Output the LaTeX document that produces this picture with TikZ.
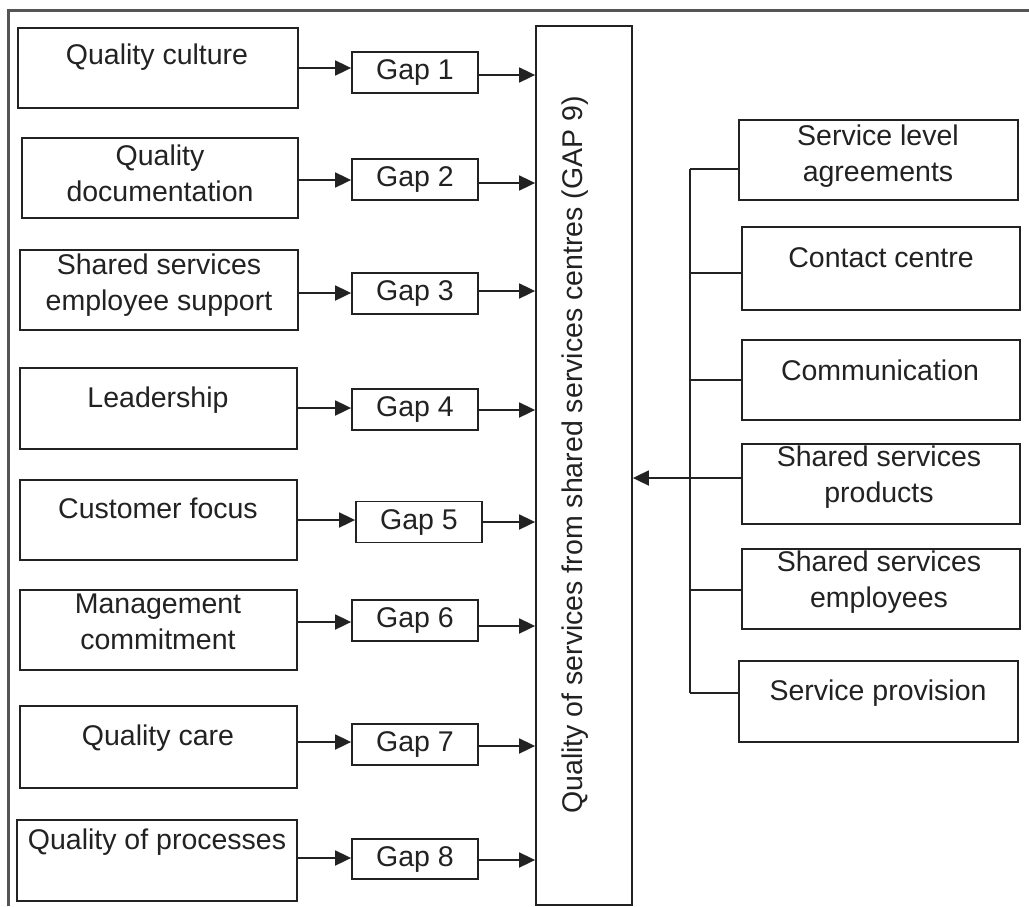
\documentclass[tikz,border=0pt]{standalone}
\usepackage{fontspec}
\setmainfont{Liberation Sans}
\usetikzlibrary{arrows.meta}
\definecolor{ink}{HTML}{222222}
\definecolor{frame}{HTML}{555555}
\begin{document}
\begin{tikzpicture}[x=1pt,y=-1pt,
  box/.style={draw=ink,line width=1.8pt,rectangle,inner sep=0pt,fill=white},
  txt/.style={font=\fontsize{28.5}{36}\selectfont,text=ink,align=center,inner sep=0pt},
  arr/.style={draw=ink,line width=1.8pt,-{Triangle[length=16pt,width=15pt]}},
  ln/.style={draw=ink,line width=1.8pt}]
\useasboundingbox (0,0) rectangle (1029,906);
\fill[white] (0,0) rectangle (1029,906);
% frame
\draw[frame,line width=3pt] (8,906) -- (8,10) -- (1029,10);
% central box
\node[box,minimum width=96pt,minimum height=879pt] (c) at (584,465.5) {};
\node[txt,rotate=90] (ct) at (575,455) {Quality of services from shared services centres (GAP 9)};
% left boxes
\node[box,minimum width=280pt,minimum height=80pt] (l1) at (158,68) {};
\node[box,minimum width=276pt,minimum height=80pt] (l2) at (160,178) {};
\node[box,minimum width=278pt,minimum height=80pt] (l3) at (159,290) {};
\node[box,minimum width=277pt,minimum height=81pt] (l4) at (158.5,408.5) {};
\node[box,minimum width=277pt,minimum height=80pt] (l5) at (158.5,520) {};
\node[box,minimum width=277pt,minimum height=80pt] (l6) at (158.5,630) {};
\node[box,minimum width=277pt,minimum height=82pt] (l7) at (158.5,747) {};
\node[box,minimum width=280pt,minimum height=81pt] (l8) at (157,860.5) {};
\node[txt] (t1) at (157,57) {Quality culture};
\node[txt] (t2) at (160,173) {Quality\\documentation};
\node[txt] (t3) at (159,285) {Shared services\\employee support};
\node[txt] (t4) at (158,400) {Leadership};
\node[txt] (t5) at (158,508) {Customer focus};
\node[txt] (t6) at (158,622) {Management\\commitment};
\node[txt] (t7) at (158,738) {Quality care};
\node[txt] (t8) at (157,842) {Quality of processes};
% gap boxes
\node[box,minimum width=126pt,minimum height=41pt] (g1) at (415,72.5) {};
\node[box,minimum width=126pt,minimum height=41pt] (g2) at (415,179.5) {};
\node[box,minimum width=126pt,minimum height=41pt] (g3) at (415,293.5) {};
\node[box,minimum width=126pt,minimum height=41pt] (g4) at (415,409.5) {};
\node[box,minimum width=126pt,minimum height=41pt] (g5) at (419,522) {};
\node[box,minimum width=126pt,minimum height=41pt] (g6) at (415,620.5) {};
\node[box,minimum width=126pt,minimum height=41pt] (g7) at (415,744.5) {};
\node[box,minimum width=126pt,minimum height=40pt] (g8) at (415,859) {};
\node[txt] (gt1) at (g1) {Gap 1};
\node[txt] (gt2) at (g2) {Gap 2};
\node[txt] (gt3) at (g3) {Gap 3};
\node[txt] (gt4) at (g4) {Gap 4};
\node[txt] (gt5) at (g5) {Gap 5};
\node[txt] (gt6) at (g6) {Gap 6};
\node[txt] (gt7) at (g7) {Gap 7};
\node[txt] (gt8) at (g8) {Gap 8};
% arrows left -> gap
\coordinate (a1) at (0,68);
\coordinate (a2) at (0,180);
\coordinate (a3) at (0,293);
\coordinate (a4) at (0,408);
\coordinate (a5) at (0,520);
\coordinate (a6) at (0,622);
\coordinate (a7) at (0,742);
\coordinate (a8) at (0,858);
\foreach \i in {1,...,8}{
  \draw[arr] (l\i.east |- a\i) -- (g\i.west |- a\i);
}
% arrows gap -> centre
\coordinate (o1) at (0,75);
\coordinate (o2) at (0,183);
\coordinate (o3) at (0,291);
\coordinate (o4) at (0,410);
\coordinate (o5) at (0,522);
\coordinate (o6) at (0,626);
\coordinate (o7) at (0,746);
\coordinate (o8) at (0,860);
\foreach \i in {1,...,8}{
  \draw[arr] (g\i.east |- o\i) -- (c.west |- o\i);
}
% right boxes
\node[box,minimum width=279pt,minimum height=80pt] (r1) at (878.5,160) {};
\node[box,minimum width=278pt,minimum height=83pt] (r2) at (881,268.5) {};
\node[box,minimum width=278pt,minimum height=80pt] (r3) at (881,380) {};
\node[box,minimum width=278pt,minimum height=80pt] (r4) at (881,484) {};
\node[box,minimum width=278pt,minimum height=80pt] (r5) at (881,589) {};
\node[box,minimum width=279pt,minimum height=81pt] (r6) at (878.5,701.5) {};
\node[txt] (rt1) at (878,156) {Service level\\agreements};
\node[txt] (rt2) at (881,258) {Contact centre};
\node[txt] (rt3) at (880,370) {Communication};
\node[txt] (rt4) at (879,477) {Shared services\\products};
\node[txt] (rt5) at (879,582) {Shared services\\employees};
\node[txt] (rt6) at (878,693) {Service provision};
% bus
\coordinate (b1) at (690,169);
\coordinate (b2) at (690,273);
\coordinate (b3) at (690,380);
\coordinate (b4) at (690,478);
\coordinate (b5) at (690,590);
\coordinate (b6) at (690,693);
\draw[ln] (b1) -- (b6);
\foreach \i in {1,2,3,5,6}{
  \draw[ln] (b\i) -- (r\i.west |- b\i);
}
\draw[arr] (r4.west |- b4) -- (c.east |- b4);
\end{tikzpicture}
\end{document}
